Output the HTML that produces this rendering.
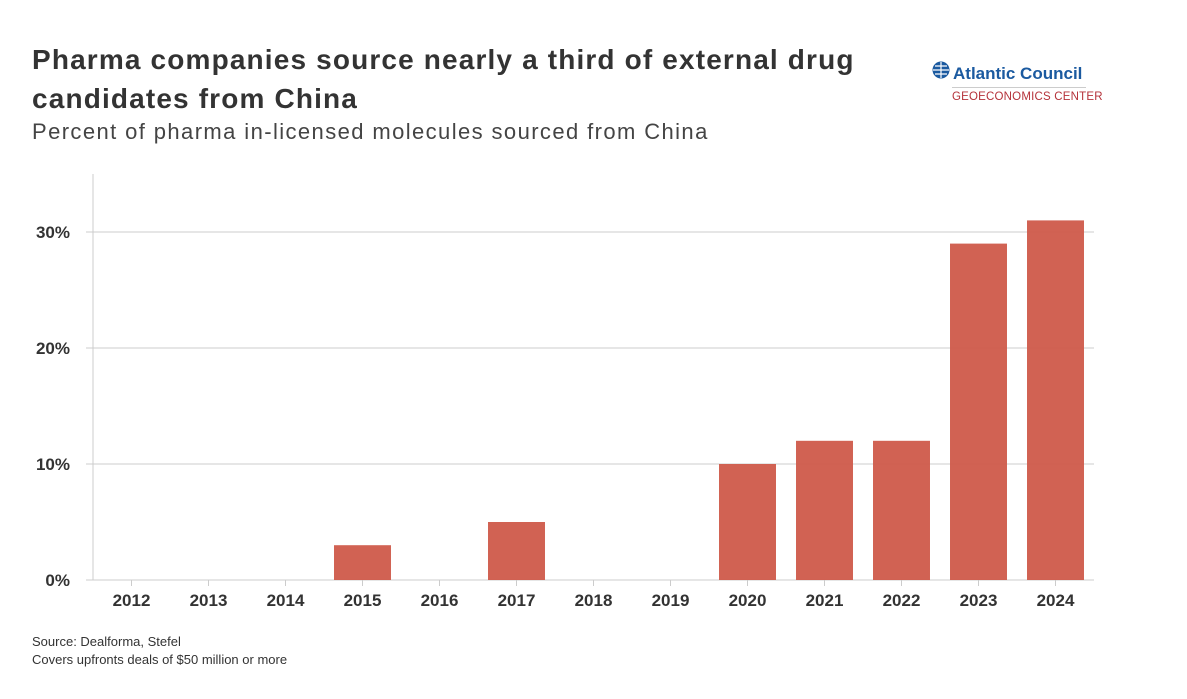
<!DOCTYPE html>
<html><head><meta charset="utf-8"><style>
body{margin:0;background:#fff;font-family:"Liberation Sans",sans-serif;}
#wrap{position:relative;width:1187px;height:699px;overflow:hidden;}
.t{position:absolute;color:#333;}
</style></head><body>
<div id="wrap">
<div class="t" style="left:32px;top:40px;font-size:28px;font-weight:bold;line-height:39px;width:880px;letter-spacing:1.15px;">Pharma companies source nearly a third of external drug candidates from China</div>
<div class="t" style="left:32px;top:119px;font-size:22px;color:#444;letter-spacing:1.4px;">Percent of pharma in-licensed molecules sourced from China</div>
<div style="position:absolute;left:932px;top:60px;width:175px;">
<svg width="20" height="20" style="position:absolute;left:0;top:1px"><circle cx="9" cy="9" r="8.5" fill="#1b5aa0"/><path d="M1 9h16M9 1v16M3 5h12M3 13h12" stroke="#fff" stroke-width="1.2"/></svg>
<div style="position:absolute;left:21px;top:4px;font-size:17px;font-weight:bold;color:#1b5aa0;white-space:nowrap;">Atlantic Council</div>
<div style="position:absolute;left:20px;top:27px;width:134px;border-top:1px solid #ccc;"></div>
<div style="position:absolute;left:20px;top:31px;font-size:11.5px;color:#b5323a;white-space:nowrap;letter-spacing:0.2px">GEOECONOMICS CENTER</div>
</div>
<svg id="plot" width="1187" height="699" style="position:absolute;left:0;top:0"></svg>
<div class="t" style="left:32px;top:633px;font-size:13px;line-height:18px;">Source: Dealforma, Stefel<br>Covers upfronts deals of $50 million or more</div>
</div>
<script>
const categories=["2012","2013","2014","2015","2016","2017","2018","2019","2020","2021","2022","2023","2024"];
const values=[0,0,0,3,0,5,0,0,10,12,12,29,31];
const yTicks=[0,10,20,30];
const yTickLabels=["0%","10%","20%","30%"];
const NS="http://www.w3.org/2000/svg";
const svg=document.getElementById('plot');
const x0=93,x1=1094,yBase=580,yPerUnit=11.6;
const band=(x1-x0)/categories.length;
const xC=i=>x0+band*(i+0.5);
const y=v=>yBase-v*yPerUnit;
function mk(tag,attrs){const e=document.createElementNS(NS,tag);for(const k in attrs)e.setAttribute(k,attrs[k]);svg.appendChild(e);return e;}
yTicks.forEach((t,i)=>{
 const g=mk('line',{x1:86,x2:x1,y1:y(t),y2:y(t),stroke:'#ccc','stroke-width':1});
 
 
 const l=mk('text',{x:70,y:y(t)+6,'text-anchor':'end','font-size':17,'font-weight':'bold',fill:'#333','font-family':'Liberation Sans, sans-serif'});
 l.textContent=yTickLabels[i];
 
 
});
const ax=mk('line',{x1:x0,x2:x0,y1:174,y2:yBase,stroke:'#ccc','stroke-width':1});


categories.forEach((c,i)=>{
 const tk=mk('line',{x1:xC(i),x2:xC(i),y1:yBase,y2:yBase+6,stroke:'#ccc'});
 
 
 const l=mk('text',{x:xC(i),y:606,'text-anchor':'middle','font-size':17,'font-weight':'bold',fill:'#333','font-family':'Liberation Sans, sans-serif'});
 l.textContent=c;
 
 
 if(values[i]>0){
  const bw=band*0.74;
  const b=mk('rect',{x:xC(i)-bw/2,y:y(values[i]),width:bw,height:values[i]*yPerUnit,fill:'#cf5a4a','fill-opacity':0.95});
  
  
 }
});
</script>
</body></html>
